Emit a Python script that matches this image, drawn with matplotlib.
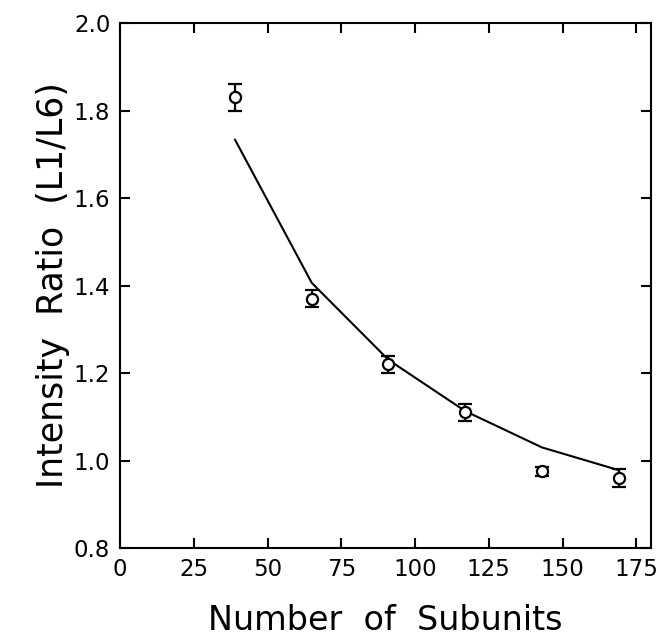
import numpy as np
import matplotlib.pyplot as plt

# measured data (points with error bars) and model curve
subunits = [39, 65, 91, 117, 143, 169]
ratio = [1.83, 1.37, 1.22, 1.11, 0.975, 0.96]
ratio_err = [0.03, 0.02, 0.02, 0.02, 0.01, 0.02]
fit = [1.733, 1.406, 1.23, 1.113, 1.03, 0.978]

xticks = [0, 25, 50, 75, 100, 125, 150, 175]
yticks = [0.8, 1.0, 1.2, 1.4, 1.6, 1.8, 2.0]

plt.rcParams['font.family'] = ['DejaVu Sans']

fig = plt.figure(figsize=(6.58, 6.39), dpi=100)
ax = fig.add_axes([0.1824, 0.1424, 0.807, 0.8216])

ax.plot(subunits, fit, color='black', lw=1.5)
ax.errorbar(subunits, ratio, yerr=ratio_err, fmt='o', color='black',
            mfc='white', mec='black', ms=8, mew=1.6, elinewidth=1.6,
            capsize=5, capthick=1.6, zorder=3)

ax.set_xlim(0, 180)
ax.set_ylim(0.8, 2.0)
ax.set_xticks(xticks)
ax.set_yticks(yticks)
ax.set_yticklabels([f'{v:.1f}' for v in yticks])
ax.tick_params(direction='in', length=7, width=1.5, top=True, right=True,
               labelsize=16.5, pad=7)
for s in ax.spines.values():
    s.set_linewidth(1.5)

ax.set_xlabel('Number  of  Subunits', fontsize=24, labelpad=17)
ax.set_ylabel('Intensity  Ratio  (L1/L6)', fontsize=25, labelpad=3)

fig.savefig('out.png', dpi=100)
